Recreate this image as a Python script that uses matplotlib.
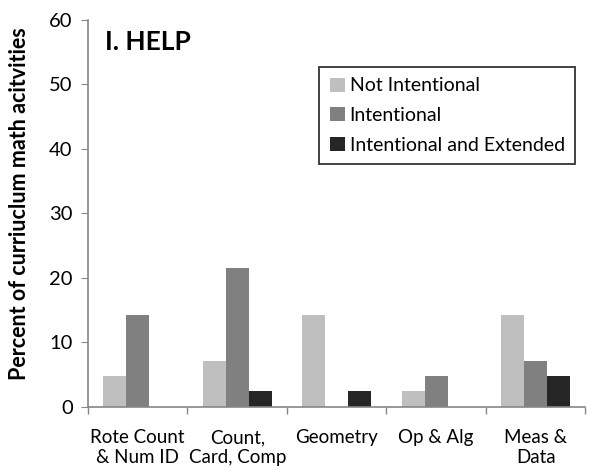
import matplotlib.pyplot as plt
import numpy as np

plt.rcParams['font.family'] = ['Lato', 'DejaVu Sans']

# Data
categories = ["Rote Count\n& Num ID", "Count,\nCard, Comp", "Geometry", "Op & Alg", "Meas &\nData"]
not_intentional = [4.8, 7.2, 14.3, 2.4, 14.3]
intentional = [14.3, 21.5, 0, 4.8, 7.2]
intentional_ext = [0, 2.4, 2.4, 0, 4.8]

series = [
    ("Not Intentional", not_intentional, "#bfbfbf"),
    ("Intentional", intentional, "#808080"),
    ("Intentional and Extended", intentional_ext, "#262626"),
]

fig = plt.figure(figsize=(5.97, 4.74), dpi=100)
ax = fig.add_axes([0.1474, 0.1414, 0.833, 0.8166])

x = np.arange(len(categories))
w = 0.23
for i, (name, vals, col) in enumerate(series):
    ax.bar(x + (i - 1) * w, vals, width=w, color=col, label=name)

ax.set_xlim(-0.5, len(categories) - 0.5)
ax.set_ylim(0, 60)
ax.set_yticks(range(0, 61, 10))

# category labels centered, ticks at boundaries
ax.set_xticks(x)
ax.set_xticklabels(categories, fontsize=13.5, linespacing=1.2)
ax.tick_params(axis='x', which='major', length=0, pad=16)
ax.set_xticks(np.arange(-0.5, len(categories)), minor=True)
ax.tick_params(axis='x', which='minor', length=5, color='#868686', width=1)
ax.tick_params(axis='y', length=5, color='#868686', labelsize=14.5, pad=6)

for s in ['top', 'right']:
    ax.spines[s].set_visible(False)
for s in ['left', 'bottom']:
    ax.spines[s].set_color('#868686')
    ax.spines[s].set_linewidth(1.2)

ax.set_ylabel("Percent of curriuclum math acitvities", fontsize=15.5,
              fontweight='bold')
ax.yaxis.set_label_coords(-0.117, 0.525)
ax.text(0.035, 0.943, "I. HELP", transform=ax.transAxes, fontsize=19,
        fontweight='bold', va='center', ha='left')

leg = ax.legend(loc='upper right', bbox_to_anchor=(0.98, 0.879), fontsize=14,
                frameon=True, fancybox=False, edgecolor='black',
                handlelength=0.75, handleheight=0.75, handletextpad=0.25,
                labelspacing=0.65, borderpad=0.55, borderaxespad=0)
leg.get_frame().set_linewidth(1.3)

fig.savefig("out.png", dpi=100)
